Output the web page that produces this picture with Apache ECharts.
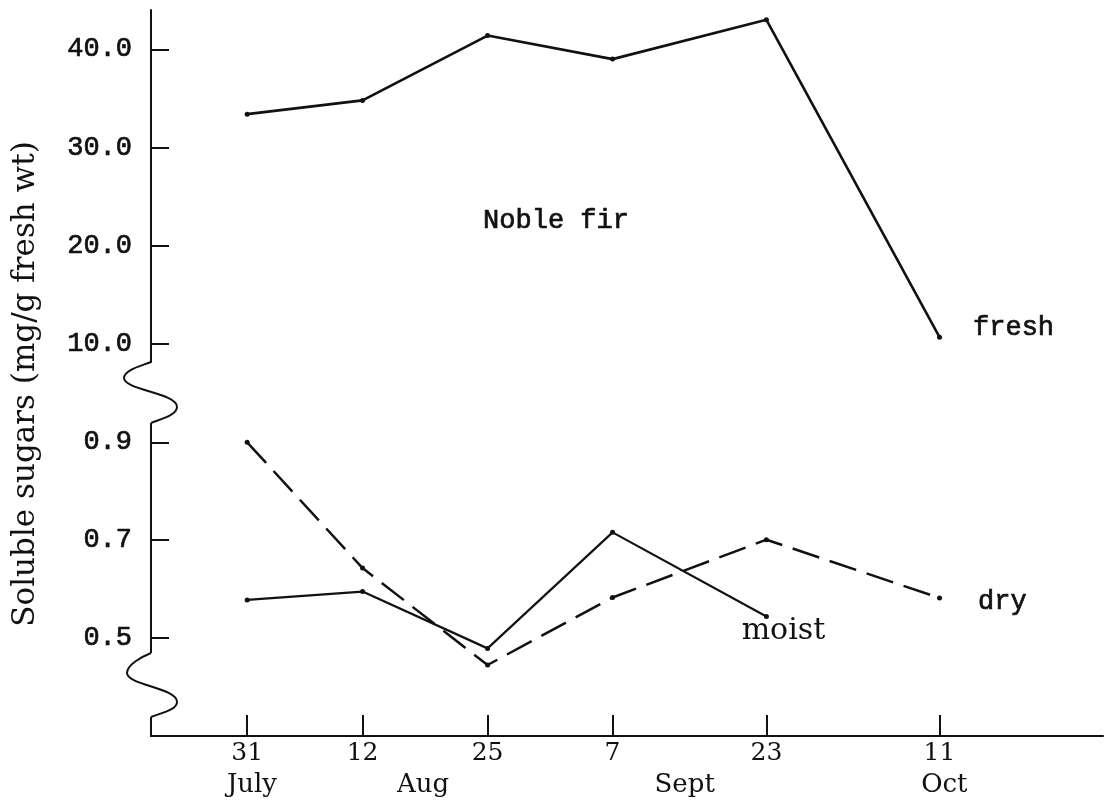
<!DOCTYPE html>
<html>
<head>
<meta charset="utf-8">
<script src="https://cdn.jsdelivr.net/npm/echarts@6/dist/echarts.min.js"></script>
<style>
  html, body { margin: 0; padding: 0; background: #fff; }
  #chart { width: 1109px; height: 807px; }
</style>
</head>
<body>
<div id="chart"></div>
<script>
// Sampling dates, counted as days after 31 July
const sampleDays = [0, 12, 25, 38, 54, 72];
const dayLabels = ['31', '12', '25', '7', '23', '11'];
const monthNames = ['July', 'Aug', 'Sept', 'Oct'];
const monthDays = [0.5, 18.3, 45.5, 72.5];

// Soluble sugars (mg/g fresh wt), Noble fir
const freshSugars = [33.4, 34.8, 41.4, 39.0, 43.0, 10.7];
const drySugars = [0.90, 0.643, 0.445, 0.583, 0.701, 0.582];
const moistSugars = [0.578, 0.595, 0.479, 0.716, 0.544];

// Tick values on the two parts of the broken value axis
const upperTicks = [10, 20, 30, 40];
const lowerTicks = [0.5, 0.7, 0.9];

const INK = '#111';
const MONO = '"Liberation Mono", "DejaVu Sans Mono", monospace';
const SERIF = '"DejaVu Serif", "Liberation Serif", serif';

const GRID_LEFT = 151;
const GRID_WIDTH = 952;
const X_MIN = -10, X_MAX = 89;

function pairs(values, endLabel) {
  return values.map((v, i) => {
    const item = { value: [sampleDays[i], v] };
    if (endLabel && i === values.length - 1) item.label = endLabel;
    return item;
  });
}

// One axis-break mark: an S-shaped wiggle leaving the spine at y0 and rejoining it at y1
function breakMark(x, y0, yLeft, xLeft, yRight, xRight, y1) {
  const s = { stroke: INK, lineWidth: 2, fill: null };
  return [
    { type: 'bezierCurve', shape: { x1: x, y1: y0, cpx1: x - 10, cpy1: y0 + 4, cpx2: xLeft, cpy2: yLeft - 8, x2: xLeft, y2: yLeft }, style: s },
    { type: 'bezierCurve', shape: { x1: xLeft, y1: yLeft, cpx1: xLeft, cpy1: yLeft + 12, cpx2: xRight, cpy2: yRight - 14, x2: xRight, y2: yRight }, style: s },
    { type: 'bezierCurve', shape: { x1: xRight, y1: yRight, cpx1: xRight, cpy1: yRight + 8, cpx2: x + 10, cpy2: y1 - 4, x2: x, y2: y1 }, style: s }
  ];
}

const chart = echarts.init(document.getElementById('chart'), null, { renderer: 'canvas' });

const dayIndex = v => sampleDays.findIndex(d => Math.abs(d - v) < 1e-6);
const monthIndex = v => monthDays.findIndex(d => Math.abs(d - v) < 1e-6);

const spine = [
  ...breakMark(GRID_LEFT, 362, 378, 124, 407, 177, 423),
  { type: 'line', shape: { x1: GRID_LEFT, y1: 423, x2: GRID_LEFT, y2: 653 }, style: { stroke: INK, lineWidth: 2 } },
  ...breakMark(GRID_LEFT, 653, 673, 127, 702, 177, 717),
  { type: 'line', shape: { x1: GRID_LEFT, y1: 717, x2: GRID_LEFT, y2: 737 }, style: { stroke: INK, lineWidth: 2 } }
];

// Typewriter-style lettering: regular weight, thickened slightly with a thin outline
const monoText = { color: INK, fontFamily: MONO, fontSize: 27,
                   textBorderColor: INK, textBorderWidth: 0.7 };

chart.setOption({
  animation: false,
  backgroundColor: '#fff',
  grid: [
    { left: GRID_LEFT, top: 10, width: GRID_WIDTH, height: 352 },
    { left: GRID_LEFT, top: 423, width: GRID_WIDTH, height: 313 }
  ],
  xAxis: [
    { type: 'value', gridIndex: 0, min: X_MIN, max: X_MAX, show: false },
    {
      type: 'value', gridIndex: 1, min: X_MIN, max: X_MAX, position: 'bottom',
      splitLine: { show: false },
      axisLine: { show: true, onZero: false, lineStyle: { color: INK, width: 2 } },
      axisTick: { show: true, inside: true, length: 21, customValues: sampleDays,
                  lineStyle: { color: INK, width: 2 } },
      axisLabel: {
        customValues: sampleDays, margin: 5,
        color: INK, fontFamily: SERIF, fontSize: 25,
        formatter: v => dayLabels[dayIndex(v)] || ''
      }
    },
    {
      type: 'value', gridIndex: 1, min: X_MIN, max: X_MAX, position: 'bottom',
      splitLine: { show: false },
      axisLine: { show: false, onZero: false },
      axisTick: { show: false },
      axisLabel: {
        customValues: monthDays, margin: 36,
        color: INK, fontFamily: SERIF, fontSize: 26,
        formatter: v => monthNames[monthIndex(v)] || ''
      }
    }
  ],
  yAxis: [
    {
      type: 'value', gridIndex: 0, min: 8.17, max: 44.0, position: 'left',
      splitLine: { show: false },
      axisLine: { show: true, onZero: false, lineStyle: { color: INK, width: 2 } },
      axisTick: { show: true, inside: true, length: 18, customValues: upperTicks,
                  lineStyle: { color: INK, width: 2 } },
      axisLabel: Object.assign({ customValues: upperTicks, margin: 19,
        formatter: v => v.toFixed(1) }, monoText)
    },
    {
      type: 'value', gridIndex: 1, min: 0.30, max: 0.9394, position: 'left',
      splitLine: { show: false },
      axisLine: { show: false, onZero: false },
      axisTick: { show: true, inside: true, length: 18, customValues: lowerTicks,
                  lineStyle: { color: INK, width: 2 } },
      axisLabel: Object.assign({ customValues: lowerTicks, margin: 19,
        formatter: v => v.toFixed(1) }, monoText)
    }
  ],
  series: [
    {
      name: 'fresh', type: 'line', xAxisIndex: 0, yAxisIndex: 0,
      data: pairs(freshSugars, Object.assign({
        show: true, position: 'right', distance: 31, offset: [0, -9], formatter: 'fresh'
      }, monoText)),
      symbol: 'circle', symbolSize: 5,
      itemStyle: { color: INK },
      lineStyle: { color: INK, width: 2.6 }
    },
    {
      name: 'dry', type: 'line', xAxisIndex: 1, yAxisIndex: 1,
      data: pairs(drySugars, Object.assign({
        show: true, position: 'right', distance: 36, offset: [0, 4], formatter: 'dry'
      }, monoText)),
      symbol: 'circle', symbolSize: 5,
      itemStyle: { color: INK },
      lineStyle: { color: INK, width: 2.5, type: [28, 11] }
    },
    {
      name: 'moist', type: 'line', xAxisIndex: 1, yAxisIndex: 1,
      data: pairs(moistSugars, {
        show: true, position: 'inside', offset: [17, 15],
        formatter: 'moist', color: INK, fontFamily: SERIF, fontSize: 30
      }),
      symbol: 'circle', symbolSize: 5,
      itemStyle: { color: INK },
      lineStyle: { color: INK, width: 2.2 }
    }
  ],
  graphic: [
    ...spine,
    {
      type: 'text', x: 26, y: 384, rotation: Math.PI / 2,
      style: {
        text: 'Soluble sugars (mg/g fresh wt)',
        fill: INK, font: '31px ' + SERIF,
        textAlign: 'center', textVerticalAlign: 'middle'
      }
    },
    {
      type: 'text', x: 556, y: 221,
      style: {
        text: 'Noble fir', fill: INK, font: '27px ' + MONO,
        stroke: INK, lineWidth: 0.7,
        textAlign: 'center', textVerticalAlign: 'middle'
      }
    }
  ]
});
</script>
</body>
</html>
